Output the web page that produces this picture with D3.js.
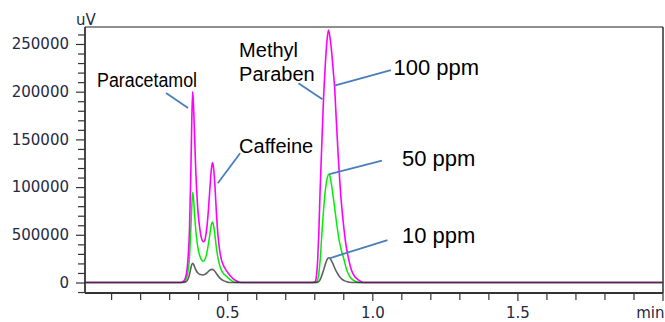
<!DOCTYPE html>
<html>
<head>
<meta charset="utf-8">
<script src="https://cdn.jsdelivr.net/npm/d3@7"></script>
<style>
html,body{margin:0;padding:0;background:#fff;}
svg{display:block;}
</style>
</head>
<body>
<svg id="chart" width="665" height="322"></svg>
<script>
// ---- data (time in min, signal in uV) ----
const ppm100 = [[0.01,0],[0.34,0],[0.35,1500],[0.355,4000],[0.36,10000],[0.365,25000],[0.37,55000],[0.375,120000],[0.378,170000],[0.381,200000],[0.384,185000],[0.388,150000],[0.392,115000],[0.396,90000],[0.400,72000],[0.405,58000],[0.410,48000],[0.415,43500],[0.420,42800],[0.425,47000],[0.430,58000],[0.435,75000],[0.440,97000],[0.445,117000],[0.449,125600],[0.453,120000],[0.458,100000],[0.463,72000],[0.468,50000],[0.474,34000],[0.480,24000],[0.487,18000],[0.495,13500],[0.503,10000],[0.512,6500],[0.520,4000],[0.530,1800],[0.543,300],[0.555,0],
  [0.795,0],[0.803,1000],[0.808,8000],[0.812,25000],[0.816,55000],[0.820,95000],[0.826,145000],[0.832,193000],[0.838,228000],[0.844,254000],[0.849,264700],[0.855,255000],[0.861,238000],[0.866,220000],[0.870,205000],[0.876,170000],[0.883,130000],[0.890,97000],[0.896,75000],[0.901,60000],[0.908,42000],[0.918,25000],[0.928,13000],[0.940,6000],[0.953,2500],[0.969,0],[2.0,0]];
const ppm50 = [[0.01,0],[0.34,0],[0.35,700],[0.355,2000],[0.36,5000],[0.365,12000],[0.37,26000],[0.375,58000],[0.378,80000],[0.381,94500],[0.384,88000],[0.388,70000],[0.392,54000],[0.396,43000],[0.400,35000],[0.405,28500],[0.410,24500],[0.415,22500],[0.420,22500],[0.425,25500],[0.430,31000],[0.435,40000],[0.440,50000],[0.445,60000],[0.449,63400],[0.453,60000],[0.458,49000],[0.463,36000],[0.468,26000],[0.474,18000],[0.480,13000],[0.487,9500],[0.495,7000],[0.503,4800],[0.512,2500],[0.520,1000],[0.530,0],
  [0.805,0],[0.810,1500],[0.815,8000],[0.820,22000],[0.825,45000],[0.830,68000],[0.834,83000],[0.840,101000],[0.846,111000],[0.851,113700],[0.857,107000],[0.863,95000],[0.870,79000],[0.878,60000],[0.886,44000],[0.894,33000],[0.901,25700],[0.910,15000],[0.920,7500],[0.932,3000],[0.945,800],[0.955,0],[2.0,0]];
const ppm10 = [[0.01,0],[0.345,0],[0.355,400],[0.362,2000],[0.368,6000],[0.373,12500],[0.377,18000],[0.381,20100],[0.385,18500],[0.390,14500],[0.395,11500],[0.400,9700],[0.408,8300],[0.416,7900],[0.424,8600],[0.432,10600],[0.440,12900],[0.448,13800],[0.455,12600],[0.462,9800],[0.470,6400],[0.478,3800],[0.487,2000],[0.497,800],[0.507,0],
  [0.805,0],[0.815,800],[0.822,4000],[0.830,11000],[0.838,19000],[0.844,24000],[0.850,26000],[0.856,24500],[0.863,20500],[0.870,15500],[0.878,10500],[0.886,6500],[0.895,3500],[0.905,1700],[0.918,600],[0.935,0],[2.0,0]];

const yTickValues = [0, 50000, 100000, 150000, 200000, 250000];
const yTickLabels = ["0", "500000", "100000", "150000", "200000", "250000"];
const xTickValues = [0.5, 1.0, 1.5, 2.0];
const xTickLabels = ["0.5", "1.0", "1.5", "min"];
const yUnit = "uV";

// annotations in data units: [t, value]
const compoundNames = ["Paracetamol", "Caffeine", "Methyl", "Paraben"];
const compoundAt = [[0.0514, 205400], [0.541, 136000], [0.541, 236700], [0.541, 210700]];
const concNames = ["100 ppm", "50 ppm", "10 ppm"];
const concAt = [[1.0731, 217500], [1.1021, 122400], [1.1021, 41700]];
// leader lines: [t1, v1, t2, v2]
const leaders = [
  [0.2893, 198600, 0.3652, 182900],
  [0.5445, 135400, 0.4676, 104000],
  [0.7455, 208800, 0.8283, 192000],
  [1.0641, 222700, 0.8697, 206300],
  [1.0331, 127700, 0.8524, 113700],
  [1.0524, 44500, 0.8524, 25400]
];

// ---- layout ----
const L = 85, R = 662.5, T = 27, B = 293;
const svg = d3.select("#chart");
const x = d3.scaleLinear().domain([0.01, 2.0]).range([L, R]);
const y = d3.scaleLinear().domain([-11000, 267800]).range([B, T]);

const tickFont = "'DejaVu Sans', sans-serif";
const labelFont = "'Liberation Sans', Arial, sans-serif";
const tickColor = "#1e2a44";

// curves
const line = d3.line().x(d => x(d[0])).y(d => y(d[1])).curve(d3.curveMonotoneX);
const g = svg.append("g");
g.append("path").datum(ppm50).attr("d", line).attr("fill", "none")
  .attr("stroke", "#00ee00").attr("stroke-width", 1.5);
g.append("path").datum(ppm100).attr("d", line).attr("fill", "none")
  .attr("stroke", "#ff00ff").attr("stroke-width", 1.6);
g.append("path").datum(ppm10).attr("d", line).attr("fill", "none")
  .attr("stroke", "#222222").attr("stroke-opacity", 0.72).attr("stroke-width", 1.6);

// frame
svg.append("line").attr("x1", L).attr("x2", 663).attr("y1", T).attr("y2", T)
  .attr("stroke", "#6a6a6a").attr("stroke-width", 1.6);
svg.append("line").attr("x1", 663).attr("x2", 663).attr("y1", T).attr("y2", B)
  .attr("stroke", "#222").attr("stroke-width", 1.4);

// y axis
const yMinor = d3.range(-10000, 260001, 10000).filter(v => v % 50000 !== 0);
const yAxisMinor = d3.axisLeft(y).tickValues(yMinor).tickSize(7).tickFormat("");
const yAxisMajor = d3.axisLeft(y).tickValues(yTickValues).tickSize(9).tickPadding(7)
  .tickFormat((d, i) => yTickLabels[i]);
const gyMinor = svg.append("g").attr("transform", `translate(${L},0)`).call(yAxisMinor);
const gy = svg.append("g").attr("transform", `translate(${L},0)`).call(yAxisMajor);
[gyMinor, gy].forEach(a => {
  a.select(".domain").remove();
  a.selectAll(".tick line").attr("stroke", "#333").attr("stroke-width", 1.2);
});
gy.selectAll(".tick text").attr("font-family", tickFont).attr("font-size", "15px")
  .attr("fill", tickColor);
svg.append("line").attr("x1", L).attr("x2", L).attr("y1", T).attr("y2", B)
  .attr("stroke", "#333").attr("stroke-width", 1.8);
svg.append("text").attr("x", L - 9).attr("y", T - 2).attr("font-family", tickFont)
  .attr("font-size", "15px").attr("fill", tickColor).text(yUnit);

// x axis
const xMinor = d3.range(1, 20).map(i => i / 10).filter(v => Math.abs(v * 2 - Math.round(v * 2)) > 1e-6);
const xAxisMinor = d3.axisBottom(x).tickValues(xMinor).tickSize(7).tickFormat("");
const xAxisMajor = d3.axisBottom(x).tickValues(xTickValues).tickSize(8).tickPadding(6)
  .tickFormat((d, i) => xTickLabels[i]);
const gxMinor = svg.append("g").attr("transform", `translate(0,${B})`).call(xAxisMinor);
const gx = svg.append("g").attr("transform", `translate(0,${B})`).call(xAxisMajor);
[gxMinor, gx].forEach(a => {
  a.select(".domain").remove();
  a.selectAll(".tick line").attr("stroke", "#333").attr("stroke-width", 1.2);
});
gx.selectAll(".tick text").attr("font-family", tickFont).attr("font-size", "15px")
  .attr("fill", tickColor);
// keep the last label ("min") inside the picture
gx.selectAll(".tick text").filter((d, i) => i === xTickValues.length - 1)
  .attr("text-anchor", "end").attr("x", 664 - x(xTickValues[xTickValues.length - 1]));
svg.append("line").attr("x1", L).attr("x2", 663).attr("y1", B).attr("y2", B)
  .attr("stroke", "#333").attr("stroke-width", 1.8);

// leader lines
svg.append("g").selectAll("line").data(leaders).join("line")
  .attr("x1", d => x(d[0])).attr("y1", d => y(d[1]))
  .attr("x2", d => x(d[2])).attr("y2", d => y(d[3]))
  .attr("stroke", "#4a7ebb").attr("stroke-width", 1.8);

// labels
const cl = svg.append("g").selectAll("text").data(compoundNames).join("text")
  .attr("x", (d, i) => x(compoundAt[i][0])).attr("y", (d, i) => y(compoundAt[i][1]))
  .attr("font-family", labelFont).attr("font-size", "20px").attr("fill", "#000")
  .text(d => d);
cl.filter((d, i) => i === 0).attr("textLength", 100).attr("lengthAdjust", "spacingAndGlyphs");
svg.append("g").selectAll("text").data(concNames).join("text")
  .attr("x", (d, i) => x(concAt[i][0])).attr("y", (d, i) => y(concAt[i][1]))
  .attr("font-family", labelFont).attr("font-size", "22px").attr("fill", "#000")
  .text(d => d);
</script>
</body>
</html>
